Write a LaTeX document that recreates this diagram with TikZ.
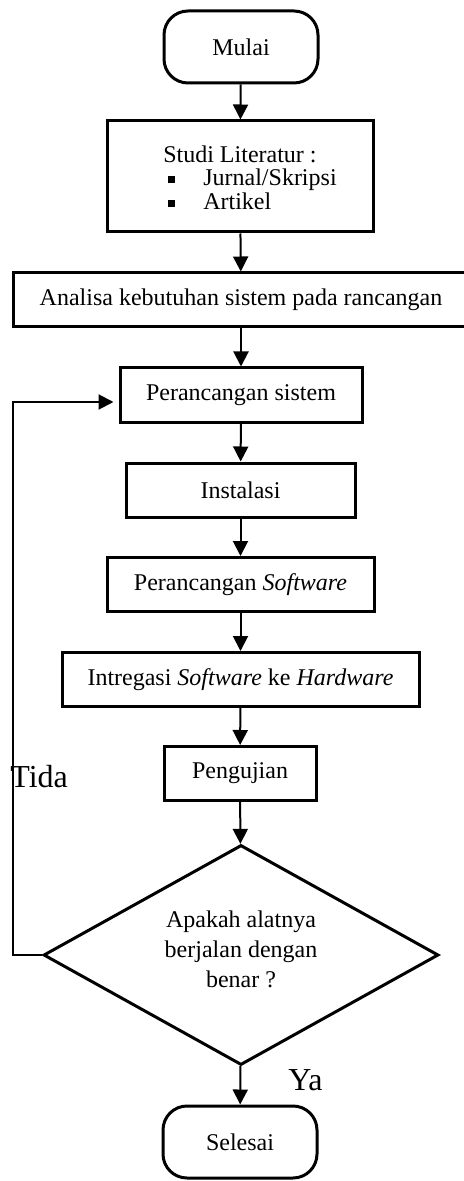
\documentclass[tikz,border=0pt]{standalone}
\usepackage{fontspec}
\setmainfont{Liberation Serif}
\usetikzlibrary{arrows.meta, positioning, shapes.geometric}

\begin{document}
\begin{tikzpicture}[x=0.5pt, y=-0.5pt, font=\fontsize{12}{13.8}\selectfont,
  box/.style={draw, line width=1.5pt, minimum height=27pt, inner sep=2pt},
  term/.style={draw, line width=1.5pt, rounded corners=12pt, minimum width=77pt, minimum height=36pt},
  decide/.style={draw, diamond, line width=1.5pt, aspect=1.8, inner sep=0pt, minimum width=197.5pt, minimum height=110pt},
  flow/.style={-{Triangle[width=7.5pt,length=7.5pt]}, line width=1pt},
  big/.style={font=\fontsize{16}{18}\selectfont}]
\useasboundingbox (0,0) rectangle (464,1181);

\node[term] (mulai) at (241,47) {Mulai};
\node[box, minimum width=133pt, minimum height=55.5pt] (studi) at (240,176.5)
  {\fontsize{12}{11.5}\selectfont\raisebox{-2.25pt}[\height][\depth]{\begin{tabular}{@{\hspace{10pt}}l@{}}
   Studi Literatur :\\
   \hspace{2.5pt}\rule[1.2pt]{3.5pt}{3.5pt}\hspace{14pt}Jurnal/Skripsi\\
   \hspace{2.5pt}\rule[1.2pt]{3.5pt}{3.5pt}\hspace{14pt}Artikel
   \end{tabular}}};
\node[box, minimum width=228pt] (analisa) at (241,300) {Analisa kebutuhan sistem pada rancangan};
\node[box, minimum width=121pt] (rancang) at (241,395) {Perancangan sistem};
\node[box, minimum width=114.5pt] (instal) at (240.5,490) {Instalasi};
\node[box, minimum width=133.5pt] (software) at (240.5,584.5) {Perancangan \textit{Software}};
\node[box, minimum width=178.5pt] (integrasi) at (240.5,679.5) {Intregasi \textit{Software} ke \textit{Hardware}};
\node[box, minimum width=76pt] (uji) at (240,773.5) {Pengujian};
\node[decide] (cek) at (241,955)
  {\raisebox{1.5pt}[\height][\depth]{\begin{tabular}{@{}c@{}}Apakah alatnya\\[1pt]berjalan dengan\\[1pt]benar ?\end{tabular}}};
\node[term] (selesai) at (240,1142) {Selesai};

\node[big, anchor=base west, inner sep=0pt] (tida) at (10,787) {Tida};
\node[big, anchor=base west, inner sep=0pt] (ya) at (288,1090) {Ya};

\draw[flow] (mulai) -- (studi);
\draw[flow] (studi) -- (analisa);
\draw[flow] (analisa) -- (rancang);
\draw[flow] (rancang) -- (instal);
\draw[flow] (instal) -- (software);
\draw[flow] (software) -- (integrasi);
\draw[flow] (integrasi) -- (uji);
\draw[flow] (uji) -- (cek);
\draw[flow] (cek) -- (selesai);
\draw[flow] (cek.west) -- ++(-29,0) |- ([xshift=-2.5pt, yshift=-3.5pt]rancang.west);
\end{tikzpicture}
\end{document}
